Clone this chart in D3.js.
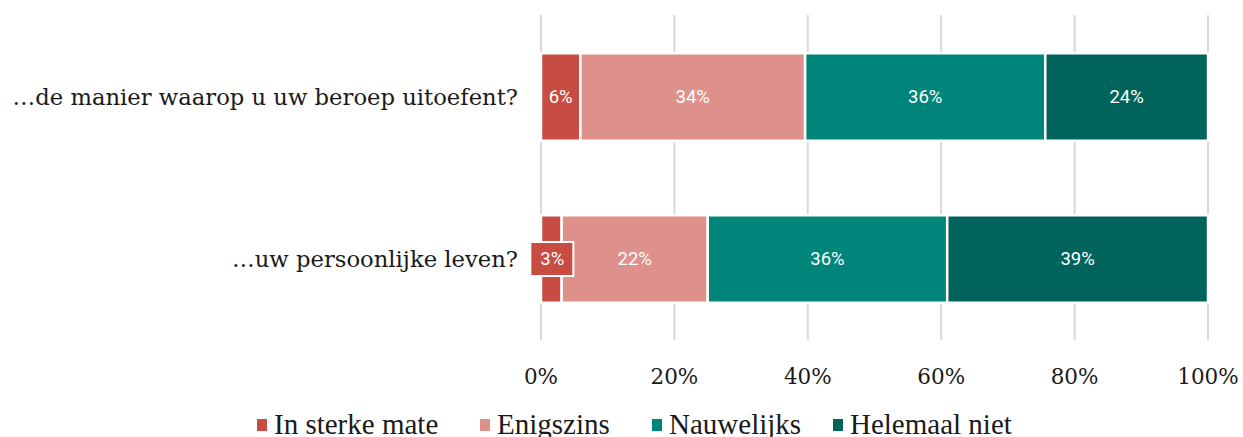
<!DOCTYPE html>
<html>
<head>
<meta charset="utf-8">
<script src="https://cdn.jsdelivr.net/npm/d3@7"></script>
<style>
  body { margin: 0; background: #fff; }
  svg { display: block; }
</style>
</head>
<body>
<svg></svg>
<script>
const questions = ['…de manier waarop u uw beroep uitoefent?', '…uw persoonlijke leven?'];
const answers = ['In sterke mate', 'Enigszins', 'Nauwelijks', 'Helemaal niet'];
const colors = ['#c94c43', '#de918b', '#00857a', '#01645c'];
const row1 = [5.9, 33.7, 36.0, 24.4];
const row2 = [3.1, 21.9, 35.9, 39.1];
const xTicks = [0, 20, 40, 60, 80, 100];

const width = 1243;
const height = 437;
const left = 541;
const right = 1208;

const svg = d3.select('svg').attr('width', width).attr('height', height);

const xScale = d3.scaleLinear().domain([0, 100]).range([left, right]);
const yScale = d3.scaleBand().domain(questions).range([16, 340]).paddingInner(0.46).paddingOuter(0.23);

// gridlines
svg.append('g')
  .selectAll('line')
  .data(xTicks)
  .enter()
  .append('line')
  .attr('x1', (d) => xScale(d))
  .attr('x2', (d) => xScale(d))
  .attr('y1', 15)
  .attr('y2', 340)
  .attr('stroke', '#d9d9d9')
  .attr('stroke-width', 2);

// stacked rows
const rows = [row1, row2].map((vals, i) => {
  let acc = 0;
  return vals.map((v, j) => {
    const seg = { q: questions[i], j: j, x0: acc, x1: acc + v, v: v };
    acc += v;
    return seg;
  });
});
const segs = rows.flat();

svg.append('g')
  .selectAll('rect')
  .data(segs)
  .enter()
  .append('rect')
  .attr('x', (d) => xScale(d.x0))
  .attr('width', (d) => xScale(d.x1) - xScale(d.x0))
  .attr('y', (d) => yScale(d.q))
  .attr('height', yScale.bandwidth())
  .attr('fill', (d) => colors[d.j])
  .attr('stroke', '#fff')
  .attr('stroke-width', 2.5);

// value labels
const labels = svg.append('g');
segs.forEach((d) => {
  const cx = (xScale(d.x0) + xScale(d.x1)) / 2;
  const cy = yScale(d.q) + yScale.bandwidth() / 2;
  const txt = Math.round(d.v) + '%';
  const small = xScale(d.x1) - xScale(d.x0) < 30;
  if (small) {
    labels.append('rect')
      .attr('x', cx - 21)
      .attr('y', cy - 17)
      .attr('width', 43)
      .attr('height', 34)
      .attr('fill', colors[d.j])
      .attr('stroke', '#fff')
      .attr('stroke-width', 2);
  }
  labels.append('text')
    .attr('x', cx + (small ? 1 : 0))
    .attr('y', cy)
    .attr('dy', '0.35em')
    .attr('text-anchor', 'middle')
    .attr('font-family', 'Roboto, sans-serif')
    .attr('font-size', 18.5)
    .attr('fill', '#fff')
    .text(txt);
});

// category labels
svg.append('g')
  .selectAll('text')
  .data(questions)
  .enter()
  .append('text')
  .attr('x', 518)
  .attr('y', (d) => yScale(d) + yScale.bandwidth() / 2)
  .attr('dy', '0.35em')
  .attr('text-anchor', 'end')
  .attr('font-family', '"DejaVu Serif", serif')
  .attr('font-size', 22.7)
  .attr('fill', '#1a1a1a')
  .text((d) => d);

// x axis labels
svg.append('g')
  .selectAll('text')
  .data(xTicks)
  .enter()
  .append('text')
  .attr('x', (d) => xScale(d))
  .attr('y', 384)
  .attr('text-anchor', 'middle')
  .attr('font-family', '"DejaVu Serif", serif')
  .attr('font-size', 21.5)
  .attr('fill', '#1a1a1a')
  .text((d) => d + '%');

// legend
const legendX = [257, 480, 652, 833];
const legend = svg.append('g');
answers.forEach((a, i) => {
  legend.append('rect')
    .attr('x', legendX[i])
    .attr('y', 419)
    .attr('width', 10)
    .attr('height', 12)
    .attr('fill', colors[i]);
  legend.append('text')
    .attr('x', legendX[i] + 17)
    .attr('y', 434)
    .attr('font-family', '"Liberation Serif", serif')
    .attr('font-size', 29)
    .attr('fill', '#1a1a1a')
    .text(a);
});
</script>
</body>
</html>
